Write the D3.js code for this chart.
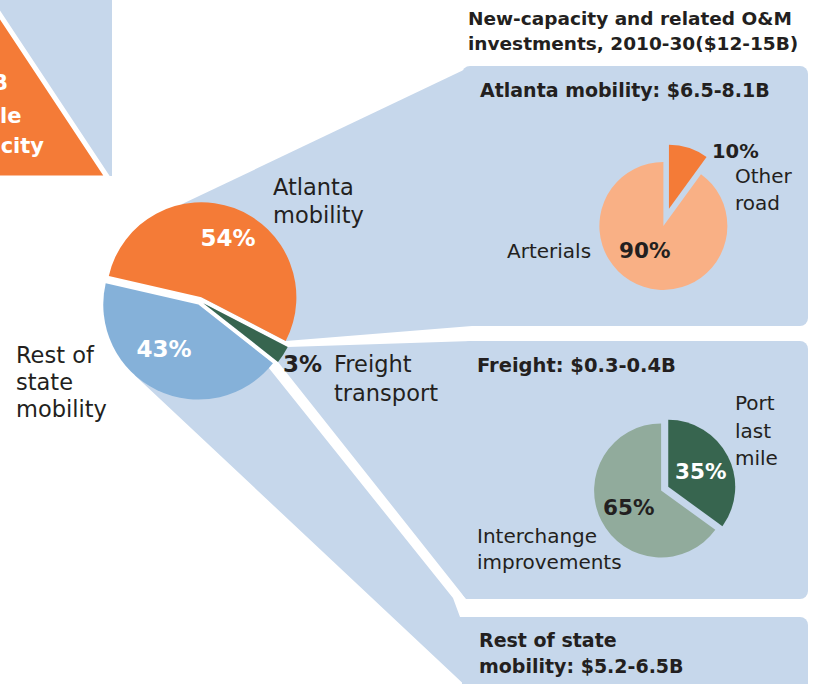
<!DOCTYPE html>
<html>
<head>
<meta charset="utf-8">
<script src="https://cdn.jsdelivr.net/npm/d3@7"></script>
<style>
  html, body { margin: 0; padding: 0; background: #fff; }
  svg text { font-family: "DejaVu Sans", sans-serif; fill: #231f20; }
</style>
</head>
<body>
<svg id="chart" width="822" height="684"></svg>
<script>
// main split of new-capacity investment
var mainNames = ["Atlanta mobility", "Freight transport", "Rest of state mobility"];
var mainShares = [54, 3, 43];
var mainColors = ["#f47b37", "#37654f", "#85b1d9"];

// Atlanta breakdown
var atlNames = ["Other road", "Arterials"];
var atlShares = [10, 90];
var atlColors = ["#f47b37", "#f9b085"];

// Freight breakdown
var frtNames = ["Port last mile", "Interchange improvements"];
var frtShares = [35, 65];
var frtColors = ["#37654f", "#91ab9c"];

var panelTitles = ["Atlanta mobility: $6.5-8.1B", "Freight: $0.3-0.4B", "Rest of state mobility: $5.2-6.5B"];
var mainTitle = ["New-capacity and related O&M", "investments, 2010-30($12-15B)"];

var svg = d3.select("#chart"),
    bg = "#c6d7eb",
    deg = Math.PI / 180;

function pt(c, a, r) {
    return [c[0] + r * Math.sin(a), c[1] - r * Math.cos(a)];
}

// ---- fragment of previous panel, top left (cut by the frame)
svg.append("rect").attr("x", 0).attr("y", 0).attr("width", 112).attr("height", 176).attr("fill", bg);
svg.append("path")
    .attr("d", "M-10,0 L108,178 L-10,178 Z")
    .attr("fill", "#f47b37")
    .attr("stroke", "#fff")
    .attr("stroke-width", 5);
svg.append("rect").attr("x", 0).attr("y", 176).attr("width", 120).attr("height", 6).attr("fill", "#fff");
[["B", 8, 90], ["le", 21.5, 123], ["city", 44, 153]].forEach(function (t) {
    svg.append("text").attr("x", t[1]).attr("y", t[2])
        .attr("text-anchor", "end")
        .style("font-size", "21px").style("font-weight", "bold").style("fill", "#fff")
        .text(t[0]);
});

// ---- main pie geometry
var C = [200, 301], R = 95;
var start = -77 * deg;
var mainPie = d3.pie().sort(null).startAngle(start).endAngle(start + 2 * Math.PI)(mainShares);
var offs = [4, 4, 4];
var centers = mainPie.map(function (d, i) {
    return pt(C, (d.startAngle + d.endAngle) / 2, offs[i]);
});

// ---- panels
var px = 462, pw = 346;
var panels = [[66, 326], [341, 599], [617, 720]];
panels.forEach(function (p) {
    svg.append("rect")
        .attr("x", px).attr("y", p[0])
        .attr("width", pw).attr("height", p[1] - p[0])
        .attr("rx", 8).attr("fill", bg);
});

// ---- funnels joining pie slices to panels
var oC = centers[0], gC = centers[1], bC = centers[2];
var gEnd = pt(gC, mainPie[1].endAngle, R);
var funnels = [
    [oC, pt(oC, -12 * deg, R), [472, 66], [472, 326], pt(oC, mainPie[0].endAngle, R)],
    [gC, pt(gC, mainPie[1].startAngle, R), [472, 341], [472, 599], [466, 599], gEnd],
    [bC, pt(bC, mainPie[2].startAngle, R - 6), [264, 362], [453, 598], [460, 617], [472, 617], [472, 690], [470, 690], pt(bC, 222 * deg, R)]
];
svg.selectAll(".funnel").data(funnels).enter().append("path")
    .attr("class", "funnel")
    .attr("d", function (d) { return "M" + d.join("L") + "Z"; })
    .attr("fill", bg);

var arcMain = d3.arc().innerRadius(0).outerRadius(R);
svg.selectAll(".mainSlice").data(mainPie).enter().append("path")
    .attr("class", "mainSlice")
    .attr("transform", function (d, i) { return "translate(" + centers[i] + ")"; })
    .attr("d", arcMain)
    .attr("fill", function (d, i) { return mainColors[i]; });

// percent labels on main pie
var mainPct = [
    { x: 228, y: 246, fill: "#fff", anchor: "middle" },
    { x: 283, y: 372, fill: "#231f20", anchor: "start" },
    { x: 164, y: 357, fill: "#fff", anchor: "middle" }
];
mainPct.forEach(function (p, i) {
    svg.append("text").attr("x", p.x).attr("y", p.y)
        .attr("text-anchor", p.anchor)
        .style("font-size", "23px").style("font-weight", "bold").style("fill", p.fill)
        .text(mainShares[i] + "%");
});

// category labels around main pie
function lines(x, y, words, step, size) {
    var t = svg.append("text").attr("x", x).attr("y", y).style("font-size", size);
    words.forEach(function (w, i) {
        t.append("tspan").attr("x", x).attr("dy", i ? step : 0).text(w);
    });
}
lines(273, 195, ["Atlanta", "mobility"], 28, "22.5px");
lines(334, 372, ["Freight", "transport"], 29, "22.5px");
lines(16, 363, ["Rest of", "state", "mobility"], 27, "22.5px");

// ---- headings
mainTitle.forEach(function (t, i) {
    svg.append("text").attr("x", 468).attr("y", 25 + i * 25)
        .style("font-size", "18.5px").style("font-weight", "bold").text(t);
});
svg.append("text").attr("x", 480).attr("y", 97)
    .style("font-size", "19px").style("font-weight", "bold").text(panelTitles[0]);
svg.append("text").attr("x", 477).attr("y", 372)
    .style("font-size", "19.5px").style("font-weight", "bold").text(panelTitles[1]);
var rt = svg.append("text").attr("x", 479).attr("y", 647)
    .style("font-size", "19px").style("font-weight", "bold");
rt.append("tspan").attr("x", 479).text("Rest of state");
rt.append("tspan").attr("x", 479).attr("dy", 26).text(panelTitles[2].replace("Rest of state ", ""));

// ---- small pies
function smallPie(c, r, shares, colors, offsets) {
    var p = d3.pie().sort(null)(shares);
    var arc = d3.arc().innerRadius(0).outerRadius(r);
    svg.append("g").selectAll("path").data(p).enter().append("path")
        .attr("transform", function (d, i) {
            return "translate(" + pt(c, (d.startAngle + d.endAngle) / 2, offsets[i]) + ")";
        })
        .attr("d", arc)
        .attr("fill", function (d, i) { return colors[i]; });
}
smallPie([664, 224], 64, atlShares, atlColors, [16, 2]);
smallPie([662, 490], 67, frtShares, frtColors, [7, 1]);

function pct(x, y, v, fill, size) {
    svg.append("text").attr("x", x).attr("y", y)
        .style("font-size", size).style("font-weight", "bold").style("fill", fill)
        .text(v + "%");
}
pct(712, 158, atlShares[0], "#231f20", "19.5px");
pct(619, 258, atlShares[1], "#231f20", "21.5px");
pct(675, 479, frtShares[0], "#fff", "21.5px");
pct(603, 515, frtShares[1], "#231f20", "21.5px");

lines(735, 183, ["Other", "road"], 27, "20px");
lines(507, 258, ["Arterials"], 0, "20px");
lines(735, 410, ["Port", "last", "mile"], 27.5, "20px");
lines(477, 543, ["Interchange", "improvements"], 26, "20px");
</script>
</body>
</html>
